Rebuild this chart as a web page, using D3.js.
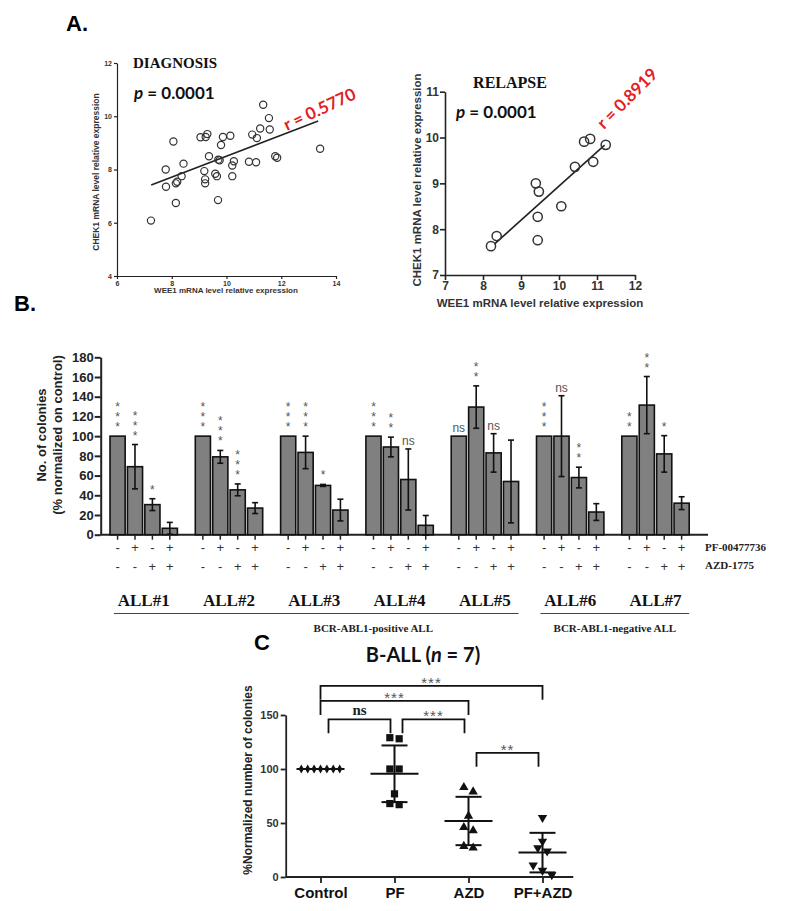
<!DOCTYPE html>
<html>
<head>
<meta charset="utf-8">
<script src="https://cdn.jsdelivr.net/npm/d3@7"></script>
<style>
  body { margin: 0; background: #fff; }
</style>
</head>
<body>
<div id="chart"></div>
<script>
// ---------- Panel A: diagnosis ----------
const diagWee1  = [7.24, 7.78, 7.79, 8.06, 8.15, 8.2, 8.15, 8.36, 8.43, 9.05, 9.24, 9.3, 9.19, 9.22, 9.22, 9.36, 9.59, 9.65, 9.69, 9.70, 9.75, 9.8, 9.87, 10.14, 10.21, 10.27, 10.21, 10.82, 11.08, 10.94, 11.11, 11.23, 11.58, 11.34, 11.55, 11.78, 11.85, 13.42];
const diagChek1 = [6.08, 8.0, 7.35, 9.05, 7.48, 7.54, 6.74, 7.75, 8.22, 9.21, 9.22, 9.33, 7.94, 7.63, 7.48, 8.5, 7.84, 7.75, 6.85, 8.37, 8.35, 8.92, 9.22, 9.27, 8.15, 8.31, 7.75, 8.29, 8.27, 9.31, 9.18, 9.54, 9.5, 10.43, 9.93, 8.5, 8.44, 8.78];
const diagFit = { slope: 0.394, intercept: 4.56, from: 7.25, to: 13.35 };
const diagXTicks = [6, 8, 10, 12, 14];
const diagYTicks = [4, 6, 8, 10, 12];

// ---------- Panel A: relapse ----------
const relWee1  = [8.21, 8.36, 9.39, 9.47, 9.44, 9.44, 10.06, 10.42, 10.66, 10.82, 10.9, 11.23];
const relChek1 = [7.63, 7.85, 9.0, 8.82, 8.27, 7.76, 8.5, 9.36, 9.91, 9.97, 9.47, 9.84];
const relFit = { slope: 0.744, intercept: 1.50, from: 8.3, to: 11.2 };
const relXTicks = [7, 8, 9, 10, 11, 12];
const relYTicks = [7, 8, 9, 10, 11];

// ---------- Panel B: colonies per patient ----------
const groups = ["ALL#1", "ALL#2", "ALL#3", "ALL#4", "ALL#5", "ALL#6", "ALL#7"];
const pfSigns  = ["-", "+", "-", "+"];
const azdSigns = ["-", "-", "+", "+"];
const colonyMeans = [
  [100, 69, 30.5, 6.5],
  [100, 79, 45.5, 27],
  [100, 83.5, 50, 25],
  [100, 89, 56, 9.5],
  [100, 129.5, 83, 54],
  [100, 100, 58, 23],
  [100, 131.5, 82, 32]
];
const colonyErr = [
  [0, 22.5, 6, 6],
  [0, 6.5, 6, 5.5],
  [0, 16.5, 1, 11],
  [0, 10, 31, 10],
  [0, 21.5, 19.5, 42],
  [0, 41, 10.5, 8.5],
  [0, 29, 18.5, 6.5]
];
const colonySig = [
  ["***", "***", "*", ""],
  ["***", "***", "***", ""],
  ["***", "***", "*", ""],
  ["***", "**", "ns", ""],
  ["ns", "**", "ns", ""],
  ["***", "ns", "**", ""],
  ["**", "**", "*", ""]
];
const colonyTicks = [0, 20, 40, 60, 80, 100, 120, 140, 160, 180];
const subtypeLabels = ["BCR-ABL1-positive ALL", "BCR-ABL1-negative ALL"];
const subtypeGroups = [["ALL#1", "ALL#5"], ["ALL#6", "ALL#7"]];

// ---------- Panel C: pooled B-ALL ----------
const cCats = ["Control", "PF", "AZD", "PF+AZD"];
const cValues = [
  [100, 100, 100, 100, 100, 100, 100],
  [129, 128, 100, 100, 77, 67, 68],
  [83, 79, 56.5, 46, 43, 27, 28.5],
  [55, 33, 27, 24, 11, 6, 2]
];
const cTicks = [0, 50, 100, 150];
const cComparisons = [
  { a: "Control", b: "PF+AZD", label: "***", level: 177 },
  { a: "Control", b: "AZD", label: "***", level: 163 },
  { a: "Control", b: "PF", label: "ns", level: 146 },
  { a: "PF", b: "AZD", label: "***", level: 146 },
  { a: "AZD", b: "PF+AZD", label: "**", level: 115 }
];

const SANS = "'Liberation Sans', Arial, sans-serif";
const SERIF = "'Liberation Serif', 'Times New Roman', serif";
const CAL = "Lato, 'Open Sans', sans-serif";

const svg = d3.select("#chart").append("svg")
  .attr("width", 786).attr("height", 911)
  .style("font-family", SANS);

// panel letters
svg.append("text").attr("x", 66).attr("y", 31).text("A.")
  .style("font-size", "22px").style("font-weight", "bold");
svg.append("text").attr("x", 14).attr("y", 311).text("B.")
  .style("font-size", "22px").style("font-weight", "bold");
svg.append("text").attr("x", 254).attr("y", 650).text("C")
  .style("font-size", "22px").style("font-weight", "bold");

function styleAxis(g, fontSize, width) {
  g.selectAll(".domain").attr("stroke", "#222").attr("stroke-width", width);
  g.selectAll(".tick line").attr("stroke", "#222").attr("stroke-width", width);
  g.selectAll(".tick text")
    .style("font-family", SANS).style("font-weight", "bold")
    .style("font-size", fontSize + "px").attr("fill", "#333");
}

// ================= Panel A left =================
const xDiag = d3.scaleLinear().domain([6, 14]).range([117, 336]);
const yDiag = d3.scaleLinear().domain([4, 12]).range([276, 63]);
const gDiag = svg.append("g");

gDiag.append("g").attr("transform", "translate(0,276)")
  .call(d3.axisBottom(xDiag).tickValues(diagXTicks).tickSize(3).tickPadding(2).tickSizeOuter(0))
  .call(g => styleAxis(g, 7, 1.2));
gDiag.append("g").attr("transform", "translate(117,0)")
  .call(d3.axisLeft(yDiag).tickValues(diagYTicks).tickSize(3).tickPadding(2).tickSizeOuter(0))
  .call(g => styleAxis(g, 7, 1.2));

gDiag.append("text").attr("x", 226).attr("y", 293).attr("text-anchor", "middle")
  .text("WEE1 mRNA level relative expression")
  .style("font-size", "8px").style("font-weight", "bold").attr("fill", "#333");
gDiag.append("text").attr("transform", "translate(99,172) rotate(-90)").attr("text-anchor", "middle")
  .text("CHEK1 mRNA level  relative expression")
  .style("font-size", "8.5px").style("font-weight", "bold").attr("fill", "#333");

gDiag.append("line")
  .attr("x1", xDiag(diagFit.from)).attr("y1", yDiag(diagFit.slope * diagFit.from + diagFit.intercept))
  .attr("x2", xDiag(diagFit.to)).attr("y2", yDiag(diagFit.slope * diagFit.to + diagFit.intercept))
  .attr("stroke", "#222").attr("stroke-width", 1.5);

gDiag.selectAll("circle").data(diagWee1).enter().append("circle")
  .attr("cx", d => xDiag(d)).attr("cy", (d, i) => yDiag(diagChek1[i]))
  .attr("r", 3.6).attr("fill", "none").attr("stroke", "#333").attr("stroke-width", 1.2);

gDiag.append("text").attr("x", 133).attr("y", 68).text("DIAGNOSIS")
  .style("font-family", SERIF).style("font-weight", "bold").style("font-size", "15px").attr("fill", "#111");
const pDiag = gDiag.append("text").attr("x", 134).attr("y", 99)
  .style("font-family", CAL).style("font-weight", "bold").style("font-size", "17px").attr("fill", "#111");
pDiag.append("tspan").text("p").style("font-style", "italic");
pDiag.append("tspan").text(" = 0.0001");
gDiag.append("text").attr("transform", "translate(287,131) rotate(-25)").text("r = 0.5770")
  .style("font-family", CAL).style("font-weight", "bold").style("font-size", "17px").attr("fill", "#e3201e");

// ================= Panel A right =================
const xRel = d3.scaleLinear().domain([7, 12]).range([445, 635]);
const yRel = d3.scaleLinear().domain([7, 11]).range([275, 91.7]);
const gRel = svg.append("g");

gRel.append("g").attr("transform", "translate(0,275)")
  .call(d3.axisBottom(xRel).tickValues(relXTicks).tickFormat(d3.format("d")).tickSize(5).tickPadding(1).tickSizeOuter(0))
  .call(g => styleAxis(g, 12, 1.6));
gRel.append("g").attr("transform", "translate(445,0)")
  .call(d3.axisLeft(yRel).tickValues(relYTicks).tickFormat(d3.format("d")).tickSize(5).tickPadding(1).tickSizeOuter(0))
  .call(g => styleAxis(g, 12, 1.6));

gRel.append("text").attr("x", 540).attr("y", 307).attr("text-anchor", "middle")
  .text("WEE1 mRNA level relative expression")
  .style("font-size", "11.5px").style("font-weight", "bold").attr("fill", "#333");
gRel.append("text").attr("transform", "translate(421,180) rotate(-90)").attr("text-anchor", "middle")
  .text("CHEK1 mRNA level  relative expression")
  .style("font-size", "11.5px").style("font-weight", "bold").attr("fill", "#333");

gRel.append("line")
  .attr("x1", xRel(relFit.from)).attr("y1", yRel(relFit.slope * relFit.from + relFit.intercept))
  .attr("x2", xRel(relFit.to)).attr("y2", yRel(relFit.slope * relFit.to + relFit.intercept))
  .attr("stroke", "#222").attr("stroke-width", 1.6);

gRel.selectAll("circle").data(relWee1).enter().append("circle")
  .attr("cx", d => xRel(d)).attr("cy", (d, i) => yRel(relChek1[i]))
  .attr("r", 4.6).attr("fill", "none").attr("stroke", "#333").attr("stroke-width", 1.5);

gRel.append("text").attr("x", 510).attr("y", 88).attr("text-anchor", "middle").text("RELAPSE")
  .style("font-family", SERIF).style("font-weight", "bold").style("font-size", "16px").attr("fill", "#111");
const pRel = gRel.append("text").attr("x", 456).attr("y", 118)
  .style("font-family", CAL).style("font-weight", "bold").style("font-size", "17px").attr("fill", "#111");
pRel.append("tspan").text("p").style("font-style", "italic");
pRel.append("tspan").text(" = 0.0001");
gRel.append("text").attr("transform", "translate(604,130) rotate(-45)").text("r = 0.8919")
  .style("font-family", CAL).style("font-weight", "bold").style("font-size", "17px").attr("fill", "#e3201e");

// ================= Panel B =================
const yB = d3.scaleLinear().domain([0, 180]).range([534.7, 357.3]);
const xGroup = d3.scaleBand().domain(groups).range([110, 689.2]).paddingInner(0.21);
const xBar = d3.scaleBand().domain([0, 1, 2, 3]).range([0, xGroup.bandwidth()]).paddingInner(0.13);
const gB = svg.append("g");

gB.append("g").attr("transform", "translate(100.7,0)")
  .call(d3.axisLeft(yB).tickValues(colonyTicks).tickSize(6).tickPadding(1).tickSizeOuter(0))
  .call(g => styleAxis(g, 13, 2))
  .call(g => g.selectAll(".tick text").attr("fill", "#222"));
gB.append("line").attr("x1", 100.7).attr("x2", 708).attr("y1", yB(0)).attr("y2", yB(0))
  .attr("stroke", "#222").attr("stroke-width", 2);

gB.append("text").attr("transform", "translate(46,435) rotate(-90)").attr("text-anchor", "middle")
  .text("No. of colonies").style("font-size", "13px").style("font-weight", "bold").attr("fill", "#222");
gB.append("text").attr("transform", "translate(62,435) rotate(-90)").attr("text-anchor", "middle")
  .text("(% normalized on control)").style("font-size", "13px").style("font-weight", "bold").attr("fill", "#222");

const bars = [];
groups.forEach((grp, gi) => {
  colonyMeans[gi].forEach((v, bi) => {
    bars.push({ grp, bi, v, err: colonyErr[gi][bi], sig: colonySig[gi][bi] });
  });
});
const barX = d => xGroup(d.grp) + xBar(d.bi);
const barC = d => barX(d) + xBar.bandwidth() / 2;

gB.selectAll("rect.bar").data(bars).enter().append("rect")
  .attr("class", "bar")
  .attr("x", barX).attr("width", xBar.bandwidth())
  .attr("y", d => yB(d.v)).attr("height", d => yB(0) - yB(d.v))
  .attr("fill", "#808080").attr("stroke", "#111").attr("stroke-width", 1.6);

// x tick marks under each bar
gB.selectAll("line.xt").data(bars).enter().append("line")
  .attr("x1", barC).attr("x2", barC).attr("y1", yB(0)).attr("y2", yB(0) + 5)
  .attr("stroke", "#222").attr("stroke-width", 1.5);

// error bars
const errBars = bars.filter(d => d.err > 0);
const eg = gB.selectAll("g.err").data(errBars).enter().append("g")
  .attr("stroke", "#111").attr("stroke-width", 1.6);
eg.append("line").attr("x1", barC).attr("x2", barC)
  .attr("y1", d => yB(d.v + d.err)).attr("y2", d => yB(d.v - d.err));
eg.append("line").attr("x1", d => barC(d) - 3).attr("x2", d => barC(d) + 3)
  .attr("y1", d => yB(d.v + d.err)).attr("y2", d => yB(d.v + d.err));
eg.append("line").attr("x1", d => barC(d) - 3).attr("x2", d => barC(d) + 3)
  .attr("y1", d => yB(d.v - d.err)).attr("y2", d => yB(d.v - d.err));

// significance marks: stars stacked vertically in one text (vertical writing mode)
bars.filter(d => d.sig).forEach(d => {
  const top = yB(d.v + d.err);
  if (d.sig === "ns") {
    gB.append("text").attr("x", barC(d)).attr("y", top - 4).attr("text-anchor", "middle")
      .text("ns").style("font-size", "12px").attr("fill", "#555");
  } else {
    gB.append("text").attr("x", barC(d)).attr("y", top - 6)
      .attr("text-anchor", "end")
      .style("writing-mode", "vertical-rl").style("text-orientation", "upright")
      .style("letter-spacing", "-4px")
      .style("font-size", "12px").attr("fill", "#555")
      .text(d.sig);
  }
});

// treatment sign rows
bars.forEach(d => {
  gB.append("text").attr("x", barC(d)).attr("y", 552).attr("text-anchor", "middle")
    .text(pfSigns[d.bi]).style("font-size", "13px").attr("fill", "#333");
  gB.append("text").attr("x", barC(d)).attr("y", 570.5).attr("text-anchor", "middle")
    .text(azdSigns[d.bi]).style("font-size", "13px").attr("fill", "#333");
});
gB.append("text").attr("x", 705).attr("y", 551).text("PF-00477736")
  .style("font-family", SERIF).style("font-weight", "bold").style("font-size", "11px").attr("fill", "#222");
gB.append("text").attr("x", 705).attr("y", 569).text("AZD-1775")
  .style("font-family", SERIF).style("font-weight", "bold").style("font-size", "11px").attr("fill", "#222");

gB.selectAll("text.grp").data(groups).enter().append("text")
  .attr("class", "grp")
  .attr("x", d => xGroup(d) + xGroup.bandwidth() / 2).attr("y", 606)
  .attr("text-anchor", "middle").text(d => d)
  .style("font-family", SERIF).style("font-weight", "bold").style("font-size", "17px").attr("fill", "#111");

// subtype underlines; the positive-ALL caption sits right of the line centre, as in the figure
const captionShift = [57, 0];
subtypeLabels.forEach((label, si) => {
  const [first, last] = subtypeGroups[si];
  const x1 = xGroup(first) + 4, x2 = xGroup(last) + xGroup.bandwidth();
  gB.append("line").attr("x1", x1).attr("x2", x2).attr("y1", 613.5).attr("y2", 613.5)
    .attr("stroke", "#444").attr("stroke-width", 1);
  gB.append("text").attr("x", (x1 + x2) / 2 + captionShift[si]).attr("y", 632).attr("text-anchor", "middle")
    .text(label).style("font-family", SERIF).style("font-weight", "bold")
    .style("font-size", "11px").attr("fill", "#222");
});

// ================= Panel C =================
const yC = d3.scaleLinear().domain([0, 150]).range([877, 715]);
const xC = d3.scalePoint().domain(cCats).range([320.5, 542.5]);
const gC = svg.append("g");

gC.append("g").attr("transform", "translate(285.7,0)")
  .call(d3.axisLeft(yC).tickValues(cTicks).tickSize(5).tickPadding(2).tickSizeOuter(0))
  .call(g => styleAxis(g, 11, 1.8));
gC.append("g").attr("transform", "translate(0,877)")
  .call(d3.axisBottom(xC).tickSize(6).tickPadding(4).tickSizeOuter(0))
  .call(g => styleAxis(g, 15, 1.8))
  .call(g => g.select(".domain").attr("d", "M285.7,0H573.3"))
  .call(g => g.selectAll(".tick text").attr("fill", "#111"));

gC.append("text").attr("transform", "translate(252,780) rotate(-90)").attr("text-anchor", "middle")
  .text("%Normalized number of colonies")
  .style("font-size", "12px").style("font-weight", "bold").attr("fill", "#222");

const titleC = gC.append("text").attr("x", 423).attr("y", 662).attr("text-anchor", "middle")
  .style("font-family", CAL).style("font-weight", "bold").style("font-size", "20px").attr("fill", "#111");
titleC.append("tspan").text("B-ALL (");
titleC.append("tspan").text("n").style("font-style", "italic");
titleC.append("tspan").text(" = 7)");

const symbols = [
  d3.symbol().type(d3.symbolDiamond).size(24),
  d3.symbol().type(d3.symbolSquare).size(52),
  d3.symbol().type(d3.symbolTriangle).size(38),
  d3.symbol().type(d3.symbolTriangle).size(38)
];
const spread = [6.4, 9.3, 9.3, 9.3];

cCats.forEach((cat, ci) => {
  const vals = cValues[ci];
  const cx = xC(cat);
  const mean = d3.mean(vals);
  const sd = d3.deviation(vals);

  // simple beeswarm: cluster close values and spread them sideways
  const sorted = vals.map((v, i) => ({ v, i })).sort((a, b) => b.v - a.v);
  const clusters = [];
  sorted.forEach(p => {
    const last = clusters[clusters.length - 1];
    if (last && Math.abs(yC(last[last.length - 1].v) - yC(p.v)) < 6) last.push(p);
    else clusters.push([p]);
  });
  const pts = [];
  clusters.forEach(cl => cl.forEach((p, k) => {
    pts.push({ v: p.v, dx: (k - (cl.length - 1) / 2) * spread[ci] });
  }));

  // mean and SD
  const ln = (x1, x2, y1, y2) => gC.append("line").attr("x1", x1).attr("x2", x2)
    .attr("y1", y1).attr("y2", y2).attr("stroke", "#111").attr("stroke-width", 2);
  if (sd > 0) {
    ln(cx, cx, yC(mean + sd), yC(mean - sd));
    ln(cx - 13, cx + 13, yC(mean + sd), yC(mean + sd));
    ln(cx - 13, cx + 13, yC(mean - sd), yC(mean - sd));
  }
  ln(cx - 24, cx + 24, yC(mean), yC(mean));

  gC.selectAll(null).data(pts).enter().append("path")
    .attr("d", symbols[ci])
    .attr("transform", d => `translate(${cx + d.dx},${yC(d.v)})` + (ci === 3 ? " rotate(180)" : ""))
    .attr("fill", "#111");
});

// significance brackets
cComparisons.forEach(c => {
  const ia = cCats.indexOf(c.a), ib = cCats.indexOf(c.b);
  const adjacent = ib - ia === 1;
  const x1 = xC(c.a) + (adjacent ? 8 : 0);
  const x2 = xC(c.b) - (adjacent ? 4 : 0);
  const y = yC(c.level);
  gC.append("path")
    .attr("d", `M${x1},${y + 14}V${y}H${x2}V${y + 14}`)
    .attr("fill", "none").attr("stroke", "#111").attr("stroke-width", 1.8);
  const t = gC.append("text").attr("x", (x1 + x2) / 2).attr("text-anchor", "middle").text(c.label);
  if (c.label === "ns") {
    t.attr("y", y - 4).style("font-family", SERIF).style("font-weight", "bold")
      .style("font-size", "15px").attr("fill", "#222");
  } else {
    t.attr("y", y + 2).style("font-size", "15px").attr("fill", "#555").attr("letter-spacing", "1px");
  }
});
</script>
</body>
</html>
